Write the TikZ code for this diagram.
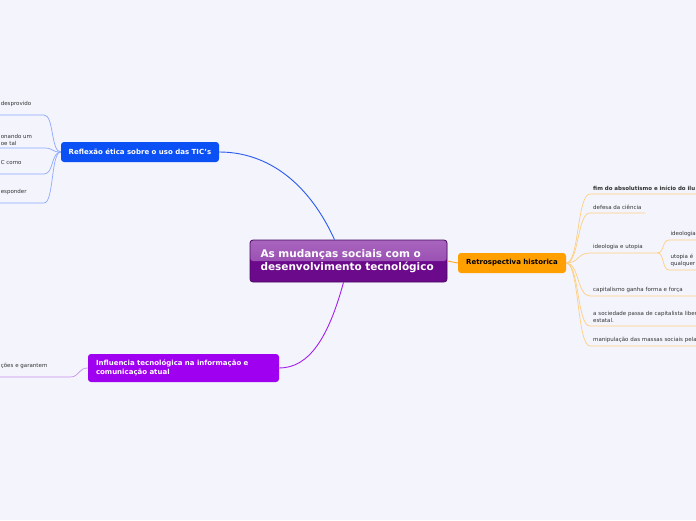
\documentclass[tikz,border=0pt]{standalone}
\usepackage{fontspec}
\setmainfont{DejaVu Sans}
\definecolor{bg}{HTML}{F3F4FC}
\definecolor{cBase}{HTML}{6C0A8C}
\definecolor{cTop}{HTML}{A865BE}
\definecolor{cMid}{HTML}{8E3EA8}
\definecolor{cBorder}{HTML}{4A0862}
\definecolor{bFill}{HTML}{0A50F5}
\definecolor{pFill}{HTML}{A000F0}
\definecolor{oFill}{HTML}{FFA000}
\definecolor{bLine}{HTML}{2A5AF0}
\definecolor{pLine}{HTML}{A41EF0}
\definecolor{oLine}{HTML}{FFA726}
\definecolor{bLeaf}{HTML}{8FA9FF}
\definecolor{pLeaf}{HTML}{C990F0}
\definecolor{oLeaf}{HTML}{FFCF80}
\definecolor{leafText}{HTML}{333333}
\begin{document}
\begin{tikzpicture}[x=1pt,y=-1pt,
  central/.style={draw=cBorder, line width=0.8pt, fill=cBase, rounded corners=3pt,
    minimum width=197pt, minimum height=42pt, text width=176pt, align=left,
    inner xsep=10.5pt, text=white, font=\bfseries\fontsize{10.5}{13}\selectfont,
    path picture={\shade[top color=cTop, bottom color=cMid]
      (path picture bounding box.north west) rectangle (path picture bounding box.east);}},
  topic/.style={rounded corners=3pt, font=\bfseries\fontsize{7}{9.5}\selectfont, inner sep=0pt},
  leaf/.style={font=\fontsize{5.5}{7}\selectfont, text=leafText, inner xsep=3pt, inner ysep=3pt, align=left},
  leafL/.style={leaf, inner xsep=1pt, inner ysep=2pt, text depth=7pt},
  mainln/.style={line width=0.9pt},
  leafln/.style={line width=0.7pt}]
\useasboundingbox (0,0) rectangle (696,520);
\fill[bg] (0,0) rectangle (696,520);
\clip (0,0) rectangle (696,520);

% central
\node[central] (c) at (348.5,261) {As mudanças sociais com o\\desenvolvimento tecnológico};

% main topics
\node[topic, fill=bFill, text=white, minimum width=158pt, minimum height=20pt] (r) at (140,152) {Reflexão ética sobre o uso das TIC's};
\node[topic, fill=pFill, text=white, minimum width=191pt, minimum height=28pt, text width=175pt, align=left] (i) at (183.5,368) {Influencia tecnológica na informação e\\comunicação atual};
\node[topic, fill=oFill, text=black, minimum width=108pt, minimum height=20pt] (o) at (512,263) {Retrospectiva historica};

\draw[bLine, mainln] ([xshift=-14pt]c.north) .. controls +(-25,-55) and +(50,0) .. (r.east);
\draw[pLine, mainln] ([xshift=-5pt]c.south) .. controls +(-15,55) and +(30,0) .. (i.east);
\draw[oLine, mainln] (c.east) -- (o.west);

% blue leaves
\node[leafL, anchor=south east, text width=42pt] (b1) at (44,115) {desprovido};
\node[leafL, anchor=south east, text width=42pt] (b2) at (44,148) {onando um\\oe tal};
\node[leafL, anchor=south east, text width=42pt] (b3) at (44,174) {C como};
\node[leafL, anchor=south east, text width=42pt] (b4) at (44,203) {esponder};
\foreach \n in {b1,b2,b3,b4}
  \draw[bLeaf, leafln] (r.west) .. controls +(-10,0) and +(10,0) .. (\n.south east) -- (\n.south west);

% purple leaf
\node[leafL, anchor=south east, text width=68pt] (p1) at (70,377) {ções e garantem};
\draw[pLeaf, leafln] (i.west) .. controls +(-10,0) and +(10,0) .. (p1.south east) -- (p1.south west);

% orange leaves
\node[leaf, anchor=south west, text width=130pt, font=\bfseries\fontsize{5.5}{7}\selectfont] (f1) at (590,194) {fim do absolutismo e início do ilu};
\node[leaf, anchor=south west, text width=49pt] (f2) at (590,213) {defesa da ciência};
\node[leaf, anchor=south west, text width=61pt] (f3) at (590,253) {ideologia e utopia};
\node[leaf, anchor=south west, text width=130pt] (f4) at (590,296) {capitalismo ganha forma e força};
\node[leaf, anchor=south west, text width=130pt] (f5) at (590,326) {a sociedade passa de capitalista liber\\estatal.};
\node[leaf, anchor=south west, text width=130pt] (f6) at (590,346) {manipulação das massas sociais pela};
\foreach \n in {f1,f2,f3,f4,f5,f6}
  \draw[oLeaf, leafln] (o.east) .. controls +(13,0) and +(-13,0) .. (\n.south west) -- (\n.south east);

\node[leaf, anchor=south west, text width=26pt, inner xsep=1.5pt] (g1) at (669,240) {ideologia};
\node[leaf, anchor=south west, text width=26pt, inner xsep=1.5pt] (g2) at (669,270) {utopia é\\qualquer};
\foreach \n in {g1,g2}
  \draw[oLeaf, leafln] (f3.south east) .. controls +(7,0) and +(-7,0) .. (\n.south west) -- (\n.south east);
\end{tikzpicture}
\end{document}
